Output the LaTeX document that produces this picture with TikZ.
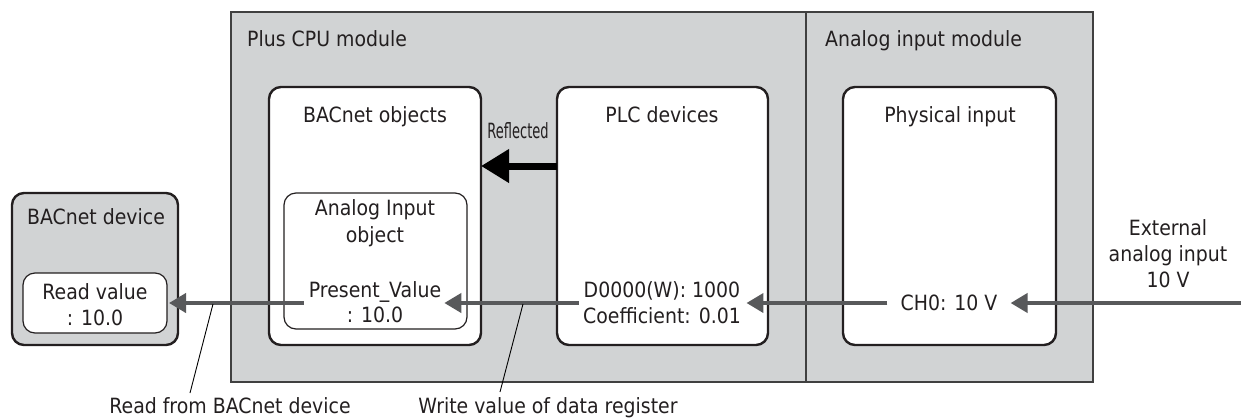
\documentclass[tikz,border=0pt]{standalone}
\usepackage{fontspec}
\setmainfont{DejaVu Sans}[FakeStretch=0.9]
\newfontfamily\narrowfont{DejaVu Sans}[FakeStretch=0.62]
\usetikzlibrary{arrows.meta}
\definecolor{modgray}{HTML}{D1D3D4}
\definecolor{arrgray}{HTML}{58595B}
\definecolor{txt}{HTML}{231F20}
\begin{document}
\begin{tikzpicture}[x=1pt,y=-1pt,
  every node/.style={font=\fontsize{21}{26}\selectfont, text=txt},
  module/.style={draw=black!75, line width=1.2pt, fill=modgray, inner sep=0pt, outer sep=0pt, anchor=north west},
  panel/.style={draw=txt, line width=2.4pt, fill=white, rounded corners=12pt, inner sep=0pt, outer sep=0pt, anchor=north west},
  subpanel/.style={draw=txt, line width=1.2pt, fill=white, rounded corners=12pt, inner sep=0pt, outer sep=0pt, anchor=north west},
  lbl/.style={inner sep=0pt, anchor=base},
  flow/.style={draw=arrgray, line width=4pt, -{Triangle[length=17pt,width=19pt]}},
  refl/.style={draw=black, line width=7pt, -{Triangle[length=28pt,width=32pt]}},
  callout/.style={draw=black, line width=0.9pt}]

\useasboundingbox (0,0) rectangle (1241,418);

% modules
\node[module, minimum width=575pt, minimum height=370pt] (cpu) at (231,12) {};
\node[module, minimum width=287pt, minimum height=370pt] (aim) at (806,12) {};

% panels
\node[panel, minimum width=212pt, minimum height=258pt] (bobj) at (269,87) {};
\node[panel, minimum width=211pt, minimum height=258pt] (plc) at (557,87) {};
\node[panel, minimum width=213pt, minimum height=258pt] (phys) at (843,87) {};
\node[subpanel, minimum width=183pt, minimum height=136pt] (aio) at (284,193) {};
\node[panel, fill=modgray, minimum width=166pt, minimum height=152pt] (bdev) at (12,193) {};
\node[subpanel, minimum width=144pt, minimum height=60pt] (rv) at (23,273) {};

% titles
\node[lbl, anchor=base west] (tcpu) at (247,46) {Plus CPU module};
\node[lbl, anchor=base west] (taim) at (825,46) {Analog input module};
\node[lbl] (tbobj) at (375,122) {BACnet objects};
\node[lbl] (tplc) at (662,122) {PLC devices};
\node[lbl] (tphys) at (950,122) {Physical input};
\node[lbl] (tbdev) at (96,224) {BACnet device};

% contents
\node[lbl] (aiol) at (375,215) {Analog Input};
\node[lbl] (aiov) at (375,242) {object};
\node[lbl] (pvl) at (375,297) {Present\_Value};
\node[lbl] (pvv) at (375,322) {: 10.0};
\node[lbl] (d0) at (662,297) {D0000(W): 1000};
\node[lbl] (coef) at (662,323) {Coefficient: 0.01};
\node[lbl] (rvl) at (95,299) {Read value};
\node[lbl] (rvv) at (95,325) {: 10.0};
\node[inner sep=0pt] (ch0) at (949,303) {CH0: 10 V};
\node[lbl] (ext1) at (1168,235) {External};
\node[lbl] (ext2) at (1168,261) {analog input};
\node[lbl] (ext3) at (1168,287) {10 V};
\node[lbl, font={\fontsize{21}{26}\selectfont\narrowfont}] (trefl) at (518,138) {Reflected};

% bottom labels
\node[lbl] (rfb) at (230,413) {Read from BACnet device};
\node[lbl] (wvd) at (548,413) {Write value of data register};

% arrows
\coordinate (extin) at (1241,303);
\draw[flow] (extin) -- ([xshift=13pt]ch0.east);
\draw[flow] ([xshift=-13pt]ch0.west) -- ([xshift=6pt,yshift=-6pt]d0.base east);
\draw[flow] ([xshift=-5pt,yshift=-6pt]d0.base west) -- ([xshift=3pt,yshift=-6pt]pvl.base east);
\draw[flow] ([xshift=-5pt,yshift=-6pt]pvl.base west) -- ([xshift=2pt]rv.east);
\draw[refl] ([yshift=50pt]plc.west) -- ([yshift=50pt]bobj.east);

% callouts
\coordinate (c1a) at (213,304);
\coordinate (c1b) at (190,393);
\coordinate (c2a) at (523,304);
\coordinate (c2b) at (500,392);
\draw[callout] (c1a) -- (c1b);
\draw[callout] (c2a) -- (c2b);
\end{tikzpicture}
\end{document}
